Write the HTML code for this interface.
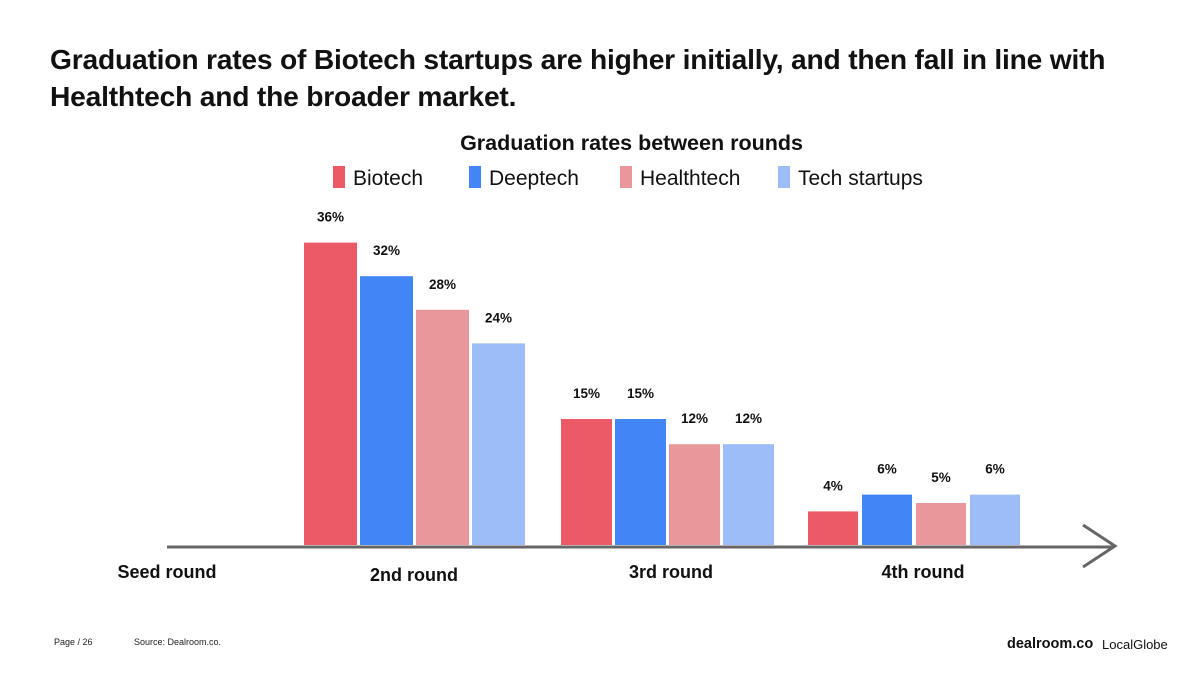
<!DOCTYPE html>
<html><head><meta charset="utf-8">
<style>
body{margin:0;width:1200px;height:675px;background:#fff;font-family:"Liberation Sans",sans-serif;overflow:hidden;position:relative}
.abs{position:absolute;white-space:nowrap}
</style></head><body>
<div class="abs" style="left:50px;top:41px;font-size:28.2px;font-weight:bold;line-height:37px;color:#111;letter-spacing:-0.2px">Graduation rates of Biotech startups are higher initially, and then fall in line with<br>Healthtech and the broader market.</div>
<div class="abs" style="left:0;width:1263px;text-align:center;top:131px;font-size:21.5px;font-weight:bold;color:#111">Graduation rates between rounds</div>
<svg id="chart" width="1200" height="675" style="position:absolute;left:0;top:0"></svg>
<div class="abs" style="left:54px;top:637px;font-size:9px;color:#222">Page / 26</div>
<div class="abs" style="left:134px;top:637px;font-size:9px;color:#222">Source: Dealroom.co.</div>
<div class="abs" style="left:1007px;top:636px;font-size:14.5px;font-weight:bold;color:#111">dealroom.co</div>
<div class="abs" style="left:1102px;top:637px;font-size:13px;color:#111">LocalGlobe</div>
<script>
const categories=["2nd round","3rd round","4th round"];
const seriesNames=["Biotech","Deeptech","Healthtech","Tech startups"];
const biotech=[36,15,4];
const deeptech=[32,15,6];
const healthtech=[28,12,5];
const techStartups=[24,12,6];
const series=[biotech,deeptech,healthtech,techStartups];
const colors=["#eb5a66","#4286f6","#ea979c","#9dbdf8"];
const NS="http://www.w3.org/2000/svg";
const svg=document.getElementById('chart');
const baseY=545, pxPer=8.4;
const groupX=[304,561,808];
const barW=[53,51,50], step=[56,54,54];
function y(v){return baseY-v*pxPer;}
function mk(t,a){const e=document.createElementNS(NS,t);for(const k in a)e.setAttribute(k,a[k]);svg.appendChild(e);return e;}
const legX=[333,469,620,778];
seriesNames.forEach((n,i)=>{
  const r=mk('rect',{x:legX[i],y:166,width:12,height:22,fill:colors[i]});
  
  
  const t=mk('text',{x:legX[i]+20,y:185,'font-size':21,fill:'#111','font-family':'Liberation Sans, sans-serif'});
  t.textContent=n;
  
  
});
categories.forEach((c,g)=>{
  series.forEach((s,i)=>{
    const x=groupX[g]+i*step[g];
    const r=mk('rect',{x:x,y:y(s[g]),width:barW[g],height:baseY-y(s[g]),fill:colors[i]});
    
    
    const t=mk('text',{x:x+barW[g]/2,y:y(s[g])-21,'font-size':13.5,'font-weight':'bold','text-anchor':'middle',fill:'#111','font-family':'Liberation Sans, sans-serif'});
    t.textContent=s[g]+'%';
    
    
  });
});
const ax=mk('line',{x1:167,y1:547,x2:1114,y2:547,stroke:'#666','stroke-width':3});


const ah=mk('polyline',{points:'1083,525 1115,546 1083,567',fill:'none',stroke:'#666','stroke-width':3});


const catLabels=["Seed round","2nd round","3rd round","4th round"];
const catX=[167,414,671,923], catY=578;
catLabels.forEach((c,i)=>{
  const t=mk('text',{x:catX[i],y:i==1?581:catY,'font-size':18,'font-weight':'bold','text-anchor':'middle',fill:'#111','font-family':'Liberation Sans, sans-serif'});
  t.textContent=c;
  
  
});
</script>
</body></html>
